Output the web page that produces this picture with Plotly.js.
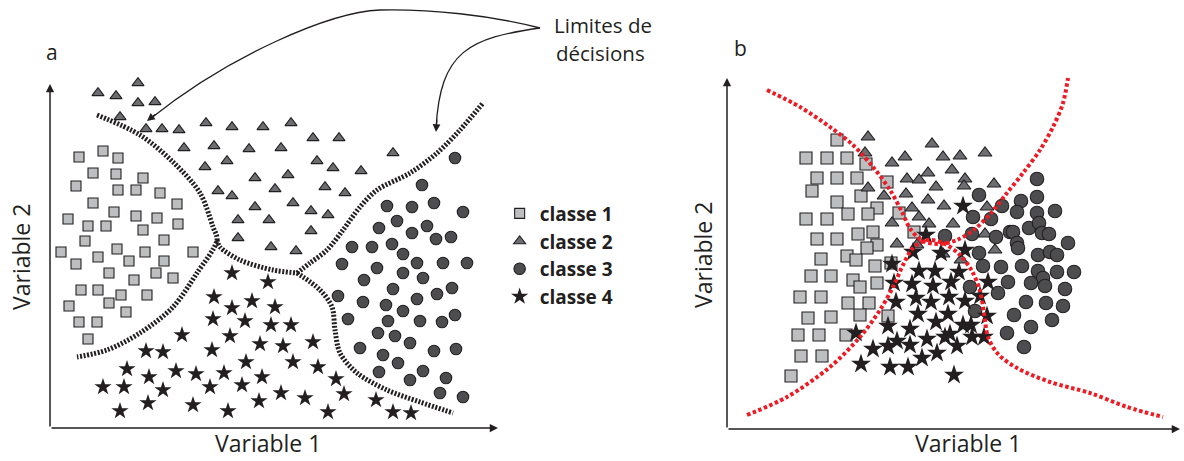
<!DOCTYPE html>
<html>
<head>
<meta charset="utf-8">
<script src="https://cdn.plot.ly/plotly-3.0.1.min.js"></script>
<style>html,body{margin:0;padding:0;background:#fff;}#chart{width:1184px;height:461px;}</style>
</head>
<body>
<div id="chart"></div>
<script>
// ---------- Panel a data ----------
const classNames = ['classe 1', 'classe 2', 'classe 3', 'classe 4'];

const a_c1_x = [29,53,68,43,66,93,26,68,86,110,43,127,64,86,107,18,38,56,93,128,35,114,11,48,67,95,143,26,79,114,59,106,84,123,31,48,71,97,19,59,76,29,47,38];
const a_c1_y = [271,277,270,255,254,250,242,238,238,235,225,224,216,212,210,209,202,202,198,204,187,188,176,171,179,176,176,164,167,167,155,155,148,150,138,138,133,133,122,125,116,106,106,89];

const a_c2_x = [48,66,88,88,105,70,96,112,129,156,182,213,241,134,164,199,231,177,155,205,225,168,182,205,188,219,188,221,263,289,267,283,311,343,238,275,295,243,261,278,261,246];
const a_c2_y = [335,332,345,325,326,311,299,299,298,305,301,301,305,280,282,279,280,267,261,250,239,237,232,221,208,208,190,181,290,290,267,260,257,275,253,241,235,225,217,213,197,177];

const a_c3_x = [405,372,337,362,384,413,329,347,362,377,386,401,302,322,342,353,292,327,367,393,417,353,373,314,343,288,313,336,367,387,402,353,298,338,370,392,405,328,345,360,310,333,348,384,406,329,360,373,396,390,413];
const a_c3_y = [270,243,222,221,225,216,200,207,195,202,189,191,181,181,184,174,164,160,165,165,165,155,150,148,139,132,126,123,129,134,140,117,109,107,107,106,113,95,92,85,80,73,65,77,79,56,48,57,50,35,31];

const a_c4_x = [182,218,164,182,202,225,163,195,221,241,132,180,210,233,263,96,113,162,196,243,268,77,99,126,146,174,212,286,53,74,113,160,192,231,255,294,70,98,143,178,209,278,326,343,361];
const a_c4_y = [155,146,131,120,127,121,109,107,103,103,93,92,84,82,86,77,76,78,66,66,61,59,51,57,54,55,51,49,41,41,38,41,43,35,30,34,17,25,23,17,27,16,28,16,15];

// decision boundaries, panel a
const a_b1_x = [47,90,123,150,163,167,147,123,90,57,27];
const a_b1_y = [313,293,266,235,201,188,155,121,95,78,71];
const a_b2_x = [167,170,190,223,247];
const a_b2_y = [188,181,168,158,155];
const a_b3_x = [247,260,277,293,310,327,360,387,410,433];
const a_b3_y = [155,165,178,198,221,238,255,275,298,325];
const a_b4_x = [247,270,282,285,290,307,337,370,403];
const a_b4_y = [155,138,121,98,75,55,38,26,15];

// ---------- Panel b data ----------
const b_c1_x = [110,79,100,120,139,90,110,130,160,85,134,110,150,79,100,121,141,172,146,131,90,110,187,150,140,120,94,129,148,164,84,104,126,133,150,73,94,121,142,81,104,133,161,71,92,119,74,95,64];
const b_c1_y = [289,271,271,271,265,251,251,251,247,238,233,227,221,210,210,215,215,216,197,195,190,190,197,184,181,173,170,169,163,166,153,153,149,142,146,132,132,126,126,111,112,114,113,94,94,94,73,73,53];

const b_c2_x = [141,138,165,178,205,216,233,258,201,225,180,192,209,141,157,179,201,217,185,192,202,165,226,238,237,267,260,258,170,190,216,234,268];
const b_c2_y = [292,276,266,272,285,272,273,276,256,259,250,249,242,241,233,235,229,223,221,212,205,206,205,250,243,245,222,195,185,184,175,169,179];

const b_c3_x = [218,252,275,246,264,245,269,283,310,294,310,328,290,310,286,302,312,315,322,341,290,291,252,311,323,330,256,274,295,311,330,347,316,318,304,281,243,271,338,299,319,336,248,287,325,304,280,297];
const b_c3_y = [193,234,223,212,210,195,192,197,250,228,232,218,217,216,197,201,206,196,195,186,186,181,176,174,177,174,163,162,163,158,157,157,151,143,146,147,142,136,140,127,126,123,118,114,109,102,96,82];

const b_c4_x = [199,186,214,236,238,165,192,208,232,167,185,206,224,261,169,189,204,222,238,253,191,221,260,161,183,209,236,244,129,170,161,183,200,218,223,245,257,146,230,195,210,134,163,181,227];
const b_c4_y = [194,177,176,223,179,165,158,158,157,146,145,143,147,147,127,131,127,132,128,133,115,115,113,103,100,107,104,104,96,88,83,84,90,92,95,92,92,80,83,71,76,65,62,62,54];

// decision boundaries, panel b
const b_b1_x = [40,73,103,126,146,163,175,184,196,212,230,248,264,280,296,313,326,336,341];
const b_b1_y = [339,322,302,284,262,239,217,199,188,185,189,200,216,236,256,279,302,326,351];
const b_b2_x = [20,60,103,133,153,166,176,186,200,216,232,245,253,257,261,271,290,323,363,400,436];
const b_b2_y = [14,32,62,92,119,142,164,181,189,186,175,158,138,116,92,75,61,47,36,22,12];

// ---------- styles ----------
const INK = '#231f20';
const symbols = ['square', 'triangle-up', 'circle', 'star'];
const fills = ['#bcbec0', '#6d6e71', '#4d4d4f', '#231f20'];
const sizesA = [10, 10.5, 11.5, 13];
const sizesB = [12, 12, 13.5, 15];

function pts(x, y, i, panel) {
  const isA = panel === 'a';
  return {
    type: 'scatter', mode: 'markers', x: x, y: y,
    xaxis: isA ? 'x' : 'x2', yaxis: isA ? 'y' : 'y2',
    name: classNames[i], showlegend: isA, legendgroup: 'g' + i, cliponaxis: false,
    marker: {
      symbol: symbols[i], color: fills[i],
      size: isA ? sizesA[i] : sizesB[i],
      line: {color: INK, width: i === 3 ? 0 : 1.1}
    },
    hoverinfo: 'skip'
  };
}
function boundary(x, y, panel) {
  const isA = panel === 'a';
  return {
    type: 'scatter', mode: 'lines', x: x, y: y,
    xaxis: isA ? 'x' : 'x2', yaxis: isA ? 'y' : 'y2',
    showlegend: false, hoverinfo: 'skip', cliponaxis: false,
    line: {shape: 'spline', smoothing: 0.9,
           color: isA ? INK : '#ed1c24', width: isA ? 5 : 4,
           dash: isA ? '2px,1.6px' : '3.5px,2.5px'}
  };
}

const data = [
  boundary(a_b1_x, a_b1_y, 'a'), boundary(a_b2_x, a_b2_y, 'a'),
  boundary(a_b3_x, a_b3_y, 'a'), boundary(a_b4_x, a_b4_y, 'a'),
  pts(a_c1_x, a_c1_y, 0, 'a'), pts(a_c2_x, a_c2_y, 1, 'a'),
  pts(a_c3_x, a_c3_y, 2, 'a'), pts(a_c4_x, a_c4_y, 3, 'a'),
  pts(b_c1_x, b_c1_y, 0, 'b'), pts(b_c2_x, b_c2_y, 1, 'b'),
  pts(b_c3_x, b_c3_y, 2, 'b'), pts(b_c4_x, b_c4_y, 3, 'b'),
  boundary(b_b1_x, b_b1_y, 'b'), boundary(b_b2_x, b_b2_y, 'b')
];

const FONT = 'Open Sans, Noto Sans, sans-serif';
function axisArrow(xr, yr, tx, ty) {
  return {xref: xr, yref: yr, axref: xr, ayref: yr, x: tx, y: ty, ax: 0, ay: 0,
          text: '', showarrow: true, arrowhead: 2, arrowsize: 1.1, arrowwidth: 1.5,
          arrowcolor: INK, standoff: 0, startstandoff: 0};
}
function label(xr, yr, x, y, text, size, angle) {
  return {xref: xr, yref: yr, x: x, y: y, text: text, showarrow: false,
          textangle: angle || 0, xanchor: 'center', yanchor: 'middle',
          font: {family: FONT, size: size, color: INK}};
}

const annotations = [
  axisArrow('x', 'y', 0, 344), axisArrow('x', 'y', 448, 0),
  axisArrow('x2', 'y2', 0, 351), axisArrow('x2', 'y2', 453, 0),
  label('x', 'y', 2, 376, 'a', 21), label('x2', 'y2', 13, 381, 'b', 21),
  label('x', 'y', 218, -15, 'Variable 1', 23), label('x', 'y', -29, 171, 'Variable 2', 23, -90),
  label('x2', 'y2', 241, -14, 'Variable 1', 23), label('x2', 'y2', -24, 174, 'Variable 2', 23, -90),
  label('paper', 'paper', 603 / 1184, 1 - 25 / 461, 'Limites de', 20.5),
  label('paper', 'paper', 600 / 1184, 1 - 53 / 461, 'décisions', 20.5),
  // arrowheads of the two curved pointers
  {xref: 'x', yref: 'y', x: 97, y: 307, ax: 10, ay: -8, text: '', showarrow: true,
   arrowhead: 2, arrowsize: 1.2, arrowwidth: 1.3, arrowcolor: INK, standoff: 0},
  {xref: 'x', yref: 'y', x: 386, y: 296, ax: 1, ay: -14, text: '', showarrow: true,
   arrowhead: 2, arrowsize: 1.2, arrowwidth: 1.3, arrowcolor: INK, standoff: 0}
];

const shapes = [
  {type: 'path', xref: 'x', yref: 'y', line: {color: INK, width: 1.3},
   path: 'M 490,400 C 440,413 380,419 330,418 C 280,416 180,373 100,309'},
  {type: 'path', xref: 'x', yref: 'y', line: {color: INK, width: 1.3},
   path: 'M 490,400 C 420,390 390,378 386,299'}
];

const hidden = {visible: false, showgrid: false, zeroline: false, fixedrange: true};
const layout = {
  width: 1184, height: 461,
  margin: {l: 0, r: 0, t: 0, b: 0, pad: 0},
  paper_bgcolor: '#fff', plot_bgcolor: 'rgba(0,0,0,0)',
  xaxis: Object.assign({domain: [0, 0.5], range: [-50, 542]}, hidden),
  yaxis: Object.assign({domain: [0, 1], range: [-33, 428]}, hidden),
  xaxis2: Object.assign({domain: [0.5, 1], range: [-135, 457], anchor: 'y2'}, hidden),
  yaxis2: Object.assign({domain: [0, 1], range: [-32, 429], anchor: 'x2'}, hidden),
  showlegend: true,
  legend: {x: 0.422, y: 0.578, xanchor: 'left', yanchor: 'top',
           bgcolor: 'rgba(0,0,0,0)', borderwidth: 0, traceorder: 'grouped',
           font: {family: FONT, size: 19, color: INK, weight: 'bold'},
           itemwidth: 30, tracegroupgap: 0},
  annotations: annotations,
  shapes: shapes
};

Plotly.newPlot('chart', data, layout, {staticPlot: true, displayModeBar: false});
</script>
</body>
</html>
